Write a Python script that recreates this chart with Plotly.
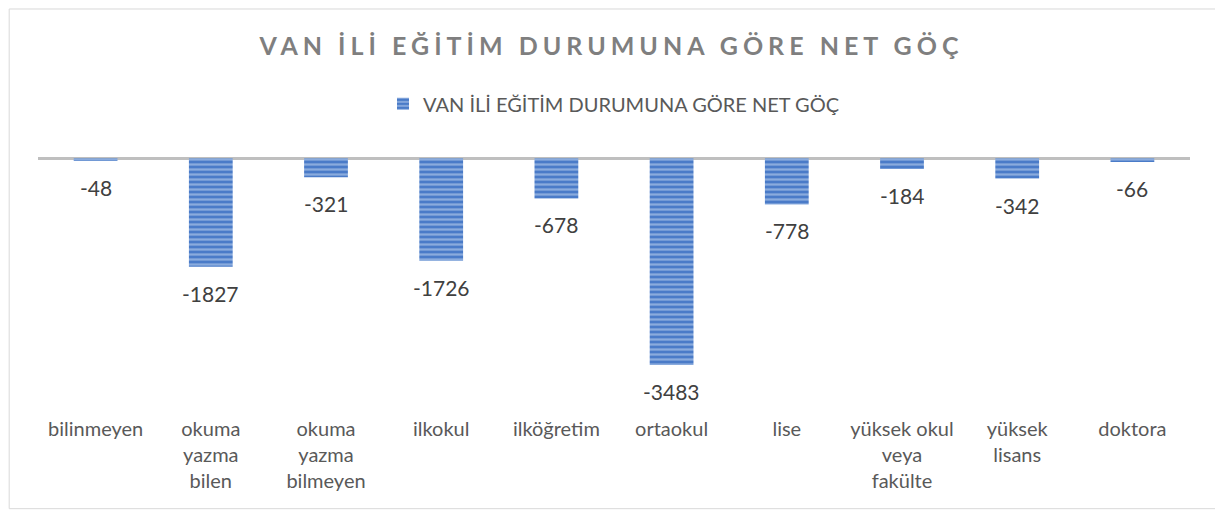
import plotly.graph_objects as go

categories = ['bilinmeyen', 'okuma<br>yazma<br>bilen', 'okuma<br>yazma<br>bilmeyen', 'ilkokul',
              'ilköğretim', 'ortaokul', 'lise', 'yüksek okul<br>veya<br>fakülte',
              'yüksek<br>lisans', 'doktora']
net_goc = [-48, -1827, -321, -1726, -678, -3483, -778, -184, -342, -66]
series_name = 'VAN İLİ EĞİTİM DURUMUNA GÖRE NET GÖÇ'

fig = go.Figure()
fig.add_trace(go.Bar(
    name=series_name,
    x=categories,
    y=net_goc,
    marker=dict(color='#4a7bc8',
                line=dict(width=0),
                pattern=dict(shape='-', fgcolor='#c9dbf2', bgcolor='#4a7bc8',
                             size=5, solidity=0.45)),
    showlegend=True,
))

# data labels under each bar
for cat, val in zip(categories, net_goc):
    fig.add_annotation(x=cat, y=val, text=str(val), showarrow=False,
                       yanchor='top', yshift=-12,
                       font=dict(size=21, color='#404040'))

fig.update_layout(
    width=1207, height=502,
    margin=dict(l=30, r=25, t=149, b=100),
    paper_bgcolor='white',
    plot_bgcolor='white',
    font=dict(family='Lato, Open Sans, sans-serif', color='#595959'),
    title=dict(text='<span style="letter-spacing:5px"><b>' + series_name + '</b></span>',
               x=0.5, xanchor='center', y=0.923, yanchor='middle',
               font=dict(size=25, color='#7f7f7f')),
    legend=dict(orientation='h', x=0.5, xanchor='center', y=1.21, yanchor='middle',
                font=dict(size=20, color='#595959')),
    bargap=0.62,
    showlegend=True,
)
fig.update_xaxes(showgrid=False, showline=False, ticks='', ticklabelstandoff=5,
                 tickfont=dict(size=20, color='#595959'))
fig.update_yaxes(range=[-4240, 20], showgrid=False, showticklabels=False,
                 zeroline=True, zerolinecolor='#bfbfbf', zerolinewidth=3)

# outer chart border
fig.add_shape(type='rect', xref='paper', yref='paper',
              x0=-0.025, x1=1.0234, y0=-0.39, y1=1.585,
              line=dict(color='#d9d9d9', width=1), layer='below')

fig.write_html("out.html")
